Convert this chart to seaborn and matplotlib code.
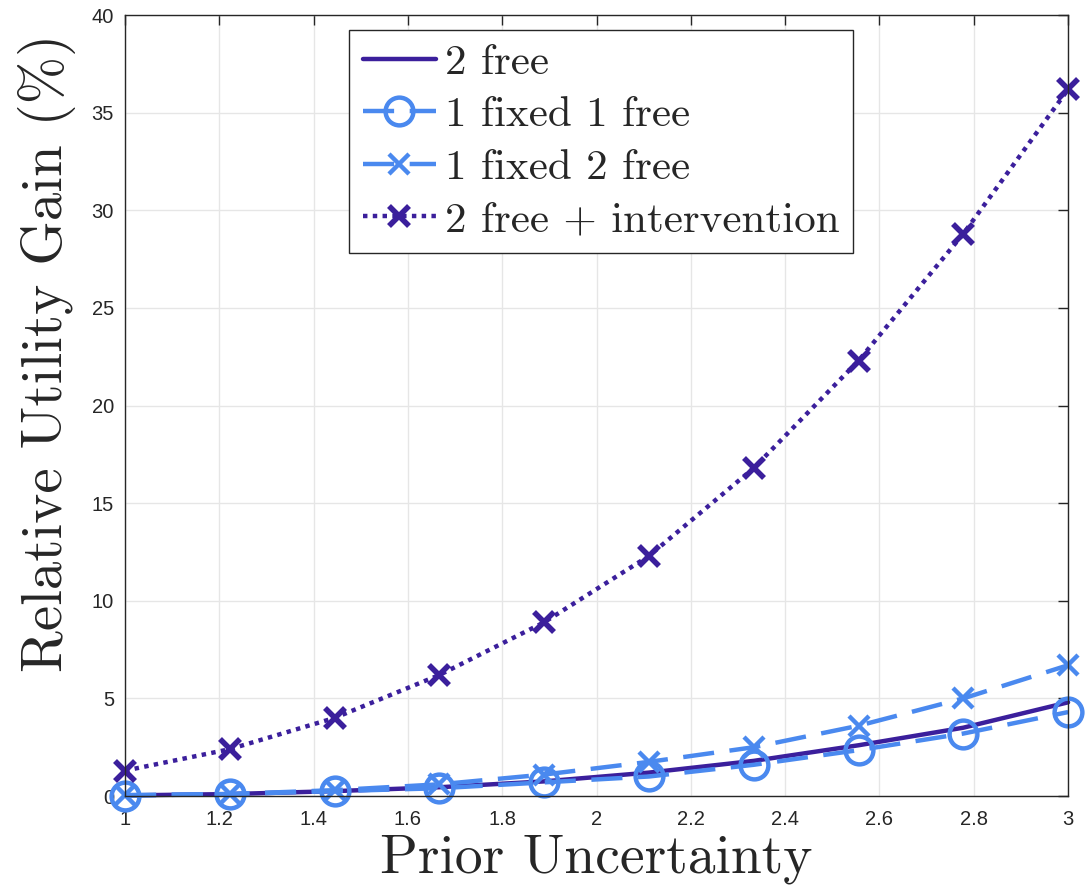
import matplotlib
matplotlib.use("Agg")
import matplotlib.pyplot as plt
import seaborn as sns
import numpy as np
import pandas as pd

# ---- data ----
prior_uncertainty = [1.0, 1.2222, 1.4444, 1.6667, 1.8889, 2.1111, 2.3333, 2.5556, 2.7778, 3.0]
two_free = [0.03, 0.1, 0.25, 0.45, 0.75, 1.2, 1.8, 2.6, 3.5, 4.8]
one_fixed_one_free = [0.02, 0.1, 0.25, 0.4, 0.7, 1.0, 1.6, 2.35, 3.2, 4.3]
one_fixed_two_free = [0.05, 0.1, 0.3, 0.6, 1.1, 1.75, 2.5, 3.6, 5.0, 6.7]
two_free_intervention = [1.3, 2.4, 4.0, 6.2, 8.9, 12.3, 16.8, 22.3, 28.8, 36.2]
labels = ["2 free", "1 fixed 1 free", "1 fixed 2 free", "2 free + intervention"]
x_ticks = [1, 1.2, 1.4, 1.6, 1.8, 2, 2.2, 2.4, 2.6, 2.8, 3]
x_tick_labels = ["1", "1.2", "1.4", "1.6", "1.8", "2", "2.2", "2.4", "2.6", "2.8", "3"]
y_ticks = [0, 5, 10, 15, 20, 25, 30, 35, 40]
y_tick_labels = ["0", "5", "10", "15", "20", "25", "30", "35", "40"]

DARK = "#3b1f9c"
LIGHT = "#4a89ef"

sns.set_style("white")
plt.rcParams["axes.formatter.use_mathtext"] = True
plt.rcParams["mathtext.fontset"] = "cm"

fig = plt.figure(figsize=(10.91, 8.93), dpi=100)
ax = fig.add_axes([0.1146, 0.1086, 0.979 - 0.1146, 0.983 - 0.1086])

styles = [
    dict(color=DARK, linestyle="-", lw=3.2),
    dict(color=LIGHT, linestyle=(0, (7, 3.5)), lw=3.2, marker="o", ms=20,
         mfc="none", mew=3.2, mec=LIGHT),
    dict(color=LIGHT, linestyle=(0, (7, 3.5)), lw=3.2, marker="x", ms=15,
         mew=3.2, mec=LIGHT),
    dict(color=DARK, linestyle=(0, (1, 1.2)), lw=3.2, marker="x", ms=15,
         mew=4, mec=DARK),
]
series = [two_free, one_fixed_one_free, one_fixed_two_free, two_free_intervention]
for ys, lab, st in zip(series, labels, styles):
    df = pd.DataFrame({"x": prior_uncertainty, "y": ys})
    kw = {k: v for k, v in st.items() if k != "color"}
    sns.lineplot(data=df, x="x", y="y", ax=ax, color=st["color"], label=lab,
                 clip_on=False, **kw)

ax.set_xlim(1, 3)
ax.set_ylim(0, 40)
ax.set_xticks(x_ticks)
ax.set_xticklabels(x_tick_labels, fontfamily="Liberation Sans", fontsize=14.5,
                   color="#262626")
ax.set_yticks(y_ticks)
ax.set_yticklabels(y_tick_labels, fontfamily="Liberation Sans", fontsize=14.5,
                   color="#262626")
ax.tick_params(direction="in", length=7, width=1, top=True, right=True,
               color="#262626", labelsize=14.5)
ax.tick_params(axis="x", pad=10)
ax.tick_params(axis="y", pad=8)
ax.grid(True, color="#e6e6e6", lw=1)
ax.set_axisbelow(True)
for s in ax.spines.values():
    s.set_color("#262626")
    s.set_linewidth(1)

ax.set_xlabel("Prior Uncertainty", fontfamily="cmr10", fontsize=40, labelpad=4)
ax.set_ylabel("Relative Utility Gain (%)", fontfamily="cmr10", fontsize=41)
ax.yaxis.set_label_coords(-0.052, 0.568)

leg = ax.legend(loc="upper left", bbox_to_anchor=(0.2375, 0.981),
                prop={"family": "cmr10", "size": 31}, frameon=True, fancybox=False,
                edgecolor="#262626", framealpha=1, handlelength=1.7,
                handletextpad=0.2, borderpad=0.32, labelspacing=0.33,
                borderaxespad=0.0)
leg.get_frame().set_linewidth(1)

fig.savefig("out.png", dpi=100)
